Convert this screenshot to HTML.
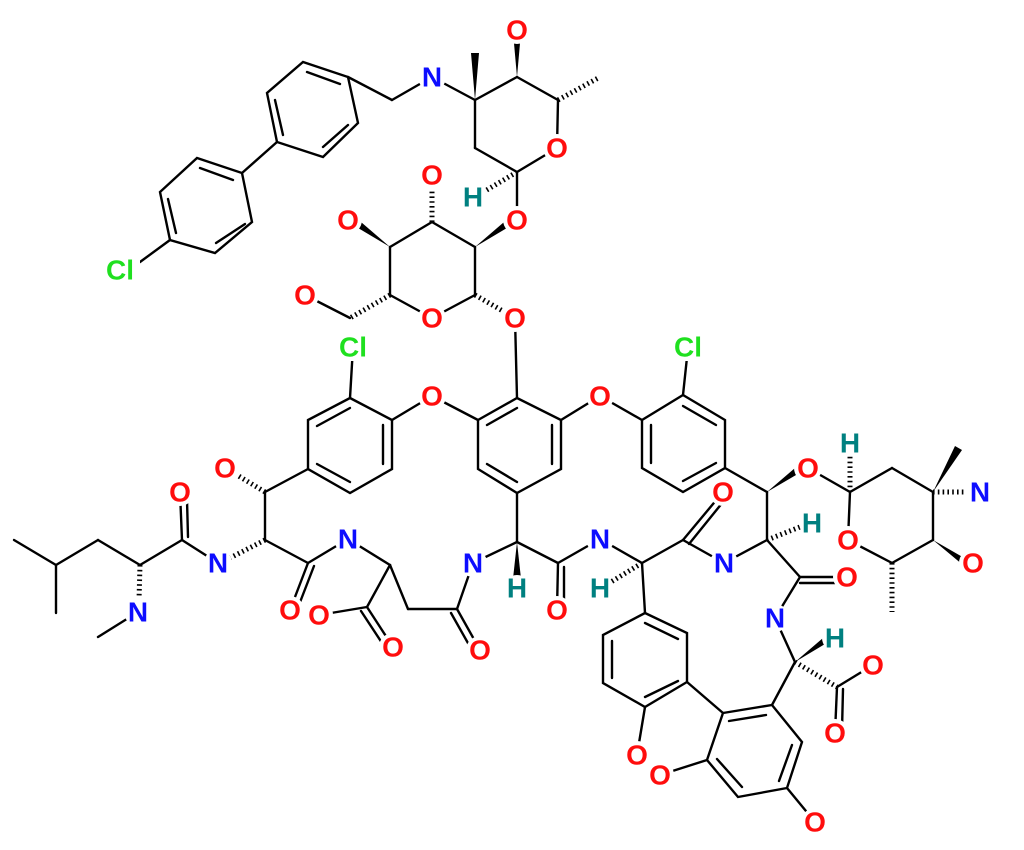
<!DOCTYPE html>
<html><head><meta charset="utf-8"><style>
html,body{margin:0;padding:0;background:#fff;}
svg{display:block}
text{font-family:"Liberation Sans",sans-serif;font-size:28px;font-weight:bold;text-anchor:middle;dominant-baseline:central}
.o{fill:#ff0d0d}.n{fill:#0d0dff}.cl{fill:#1fe01f}.h{fill:#008080}
</style></head><body>
<svg width="1024" height="850" viewBox="0 0 1024 850" xmlns="http://www.w3.org/2000/svg">
<g stroke="#000" stroke-width="2.4" fill="none" stroke-linecap="round">
<polygon points="170,240 160,192 197,158 242,173 252,222 215,253"/>
<line x1="168" y1="199" x2="176" y2="233"/><line x1="200" y1="168" x2="233" y2="180"/><line x1="245" y1="224" x2="216" y2="243"/>
<line x1="170" y1="240" x2="140" y2="262"/>
<line x1="242" y1="173" x2="277" y2="142"/>
<polygon points="277,142 267,93 303,62 348,77 358,123 323,157"/>
<line x1="275" y1="100" x2="283" y2="135"/><line x1="307" y1="72" x2="340" y2="84"/><line x1="348" y1="125" x2="323" y2="147"/>
<line x1="348" y1="77" x2="392" y2="100"/><line x1="392" y1="100" x2="432" y2="77"/><line x1="432" y1="77" x2="475" y2="100"/>
<line x1="475" y1="100" x2="517" y2="77"/><line x1="517" y1="77" x2="558" y2="100"/><line x1="558" y1="100" x2="557" y2="148"/>
<line x1="557" y1="148" x2="517" y2="172"/><line x1="517" y1="172" x2="475" y2="148"/><line x1="475" y1="148" x2="475" y2="100"/>
<line x1="517" y1="172" x2="517" y2="222"/>
<line x1="475" y1="247" x2="432" y2="222"/><line x1="432" y1="222" x2="390" y2="247"/><line x1="390" y1="247" x2="390" y2="295"/>
<line x1="390" y1="295" x2="432" y2="318"/><line x1="432" y1="318" x2="475" y2="295"/><line x1="475" y1="295" x2="475" y2="247"/>
<line x1="350" y1="318" x2="305" y2="295"/>
<line x1="515" y1="318" x2="517" y2="398"/><line x1="353" y1="347" x2="350" y2="398"/>
<polygon points="350,398 392,420 392,469 350,493 308,469 308,420"/>
<line x1="317" y1="426" x2="350" y2="408"/><line x1="383" y1="425" x2="383" y2="464"/><line x1="317" y1="464" x2="350" y2="482"/>
<line x1="392" y1="420" x2="432" y2="396"/><line x1="432" y1="396" x2="478" y2="420"/>
<polygon points="478,420 517,398 561,420 561,469 517,493 478,469"/>
<line x1="487" y1="425" x2="517" y2="408"/><line x1="552" y1="425" x2="552" y2="464"/><line x1="487" y1="464" x2="517" y2="482"/>
<line x1="561" y1="420" x2="600" y2="396"/><line x1="600" y1="396" x2="642" y2="420"/>
<polygon points="642,420 683,395 725,420 725,468 683,492 642,468"/>
<line x1="651" y1="425" x2="651" y2="463"/><line x1="683" y1="406" x2="716" y2="425"/><line x1="716" y1="463" x2="683" y2="481"/>
<line x1="683" y1="395" x2="688" y2="348"/>
<line x1="14" y1="540" x2="56" y2="565"/><line x1="56" y1="565" x2="56" y2="613"/><line x1="56" y1="565" x2="98" y2="540"/>
<line x1="98" y1="540" x2="140" y2="565"/><line x1="140" y1="565" x2="182" y2="540"/><line x1="138" y1="612" x2="98" y2="637"/>
<line x1="182" y1="540" x2="180" y2="492"/><line x1="188" y1="537" x2="187" y2="500"/>
<line x1="182" y1="540" x2="218" y2="563"/>
<line x1="265" y1="540" x2="265" y2="492"/><line x1="265" y1="492" x2="308" y2="469"/>
<line x1="265" y1="540" x2="308" y2="563"/><line x1="308" y1="563" x2="290" y2="610"/><line x1="314" y1="566" x2="297" y2="610"/>
<line x1="308" y1="563" x2="348" y2="539"/><line x1="348" y1="539" x2="390" y2="565"/>
<line x1="390" y1="565" x2="367" y2="607"/><line x1="367" y1="607" x2="319" y2="615"/>
<line x1="367" y1="607" x2="393" y2="647"/><line x1="361" y1="611" x2="386" y2="649"/>
<line x1="390" y1="565" x2="408" y2="609"/><line x1="408" y1="609" x2="457" y2="609"/>
<line x1="457" y1="609" x2="480" y2="650"/><line x1="451" y1="613" x2="473" y2="652"/>
<line x1="457" y1="609" x2="473" y2="563"/><line x1="473" y1="563" x2="517" y2="542"/>
<line x1="517" y1="542" x2="517" y2="493"/><line x1="517" y1="542" x2="558" y2="563"/>
<line x1="558" y1="563" x2="557" y2="610"/><line x1="564" y1="567" x2="564" y2="608"/>
<line x1="558" y1="563" x2="600" y2="539"/><line x1="600" y1="539" x2="642" y2="563"/>
<line x1="642" y1="563" x2="683" y2="540"/><line x1="683" y1="540" x2="723" y2="492"/><line x1="689" y1="544" x2="727" y2="497"/>
<line x1="683" y1="540" x2="724" y2="563"/><line x1="724" y1="563" x2="767" y2="540"/>
<line x1="767" y1="540" x2="767" y2="492"/><line x1="767" y1="492" x2="725" y2="468"/>
<line x1="767" y1="540" x2="800" y2="577"/><line x1="800" y1="577" x2="847" y2="577"/><line x1="800" y1="583" x2="840" y2="583"/>
<line x1="800" y1="577" x2="775" y2="618"/><line x1="775" y1="618" x2="795" y2="662"/>
<line x1="795" y1="662" x2="772" y2="705"/>
<line x1="837" y1="687" x2="873" y2="665"/><line x1="837" y1="687" x2="835" y2="733"/><line x1="843" y1="689" x2="842" y2="730"/>
<line x1="642" y1="563" x2="645" y2="613"/>
<line x1="808" y1="468" x2="850" y2="492"/><line x1="850" y1="492" x2="892" y2="468"/><line x1="892" y1="468" x2="933" y2="492"/>
<line x1="933" y1="492" x2="933" y2="540"/><line x1="933" y1="540" x2="892" y2="563"/><line x1="892" y1="563" x2="848" y2="540"/><line x1="848" y1="540" x2="850" y2="492"/>
<polygon points="645,613 687,633 687,682 645,707 603,683 603,635"/>
<line x1="645" y1="623" x2="678" y2="639"/><line x1="612" y1="641" x2="612" y2="678"/><line x1="678" y1="681" x2="645" y2="697"/>
<line x1="687" y1="682" x2="723" y2="713"/><line x1="645" y1="707" x2="637" y2="755"/>
<polygon points="723,713 772,705 802,742 787,788 738,797 707,760"/>
<line x1="729" y1="721" x2="766" y2="715"/><line x1="792" y1="745" x2="779" y2="781"/><line x1="742" y1="787" x2="717" y2="759"/>
<line x1="707" y1="760" x2="660" y2="775"/><line x1="787" y1="788" x2="815" y2="822"/>
</g>
<g fill="#000">
<polygon points="475,100 471,53 479,53"/>
<polygon points="517,77 513,32 521,32"/>
<polygon points="475,247 517,222 511,216"/>
<polygon points="390,247 348,222 354,216"/>
<polygon points="517,542 512,588 522,588"/>
<polygon points="767,492 808,468 802,462"/>
<polygon points="933,492 962,450 955,446"/>
<polygon points="933,540 973,563 969,570"/>
<polygon points="795,662 835,638 830,632"/>
</g>
<g stroke="#000" stroke-width="5" stroke-dasharray="1.6,3.2" fill="none">
<line x1="558" y1="100" x2="600" y2="77"/>
<line x1="517" y1="172" x2="480" y2="194"/>
<line x1="432" y1="222" x2="432" y2="188"/>
<line x1="390" y1="295" x2="350" y2="318"/>
<line x1="475" y1="295" x2="515" y2="318"/>
<line x1="265" y1="492" x2="232" y2="472"/>
<line x1="265" y1="540" x2="226" y2="560"/>
<line x1="140" y1="565" x2="139" y2="600"/>
<line x1="642" y1="563" x2="606" y2="585"/>
<line x1="850" y1="492" x2="850" y2="455"/>
<line x1="933" y1="492" x2="970" y2="492"/>
<line x1="892" y1="563" x2="892" y2="612"/>
<line x1="767" y1="540" x2="805" y2="525"/>
<line x1="795" y1="662" x2="837" y2="687"/>
</g>
<g fill="#fff">
<circle cx="432" cy="77" r="14"/><circle cx="517" cy="30" r="14"/><circle cx="557" cy="148" r="14"/>
<circle cx="473" cy="197" r="13"/><circle cx="517" cy="220" r="14"/><circle cx="432" cy="175" r="14"/>
<circle cx="348" cy="220" r="14"/><circle cx="432" cy="318" r="14"/><circle cx="515" cy="318" r="14"/>
<circle cx="305" cy="295" r="14"/><circle cx="432" cy="396" r="14"/><circle cx="600" cy="396" r="14"/>
<circle cx="180" cy="492" r="14"/><circle cx="218" cy="563" r="14"/><circle cx="225" cy="468" r="14"/>
<circle cx="138" cy="612" r="14"/><circle cx="290" cy="610" r="14"/><circle cx="348" cy="539" r="14"/>
<circle cx="319" cy="615" r="14"/><circle cx="393" cy="647" r="14"/><circle cx="480" cy="650" r="14"/>
<circle cx="473" cy="563" r="14"/><circle cx="517" cy="588" r="13"/><circle cx="557" cy="610" r="14"/>
<circle cx="600" cy="539" r="14"/><circle cx="600" cy="588" r="13"/><circle cx="723" cy="492" r="14"/>
<circle cx="724" cy="563" r="14"/><circle cx="808" cy="468" r="14"/><circle cx="850" cy="443" r="13"/>
<circle cx="980" cy="492" r="14"/><circle cx="848" cy="540" r="14"/><circle cx="973" cy="563" r="14"/>
<circle cx="812" cy="523" r="13"/><circle cx="847" cy="577" r="14"/><circle cx="775" cy="618" r="14"/>
<circle cx="835" cy="638" r="13"/><circle cx="873" cy="665" r="14"/><circle cx="835" cy="733" r="14"/>
<circle cx="637" cy="755" r="14"/><circle cx="660" cy="775" r="14"/><circle cx="815" cy="822" r="14"/>
<rect x="102" y="256" width="38" height="28"/><rect x="335" y="333" width="38" height="28"/><rect x="670" y="333" width="38" height="28"/>
</g>
<text x="120" y="270" class="cl">Cl</text>
<text x="432" y="77" class="n">N</text>
<text x="517" y="30" class="o">O</text>
<text x="557" y="148" class="o">O</text>
<text x="473" y="197" class="h">H</text>
<text x="517" y="220" class="o">O</text>
<text x="432" y="175" class="o">O</text>
<text x="348" y="220" class="o">O</text>
<text x="432" y="318" class="o">O</text>
<text x="515" y="318" class="o">O</text>
<text x="305" y="295" class="o">O</text>
<text x="353" y="347" class="cl">Cl</text>
<text x="432" y="396" class="o">O</text>
<text x="600" y="396" class="o">O</text>
<text x="688" y="347" class="cl">Cl</text>
<text x="180" y="492" class="o">O</text>
<text x="218" y="563" class="n">N</text>
<text x="225" y="468" class="o">O</text>
<text x="138" y="612" class="n">N</text>
<text x="290" y="610" class="o">O</text>
<text x="348" y="539" class="n">N</text>
<text x="319" y="615" class="o">O</text>
<text x="393" y="647" class="o">O</text>
<text x="480" y="650" class="o">O</text>
<text x="473" y="563" class="n">N</text>
<text x="517" y="588" class="h">H</text>
<text x="557" y="610" class="o">O</text>
<text x="600" y="539" class="n">N</text>
<text x="600" y="588" class="h">H</text>
<text x="723" y="492" class="o">O</text>
<text x="724" y="563" class="n">N</text>
<text x="808" y="468" class="o">O</text>
<text x="850" y="443" class="h">H</text>
<text x="980" y="492" class="n">N</text>
<text x="848" y="540" class="o">O</text>
<text x="973" y="563" class="o">O</text>
<text x="812" y="523" class="h">H</text>
<text x="847" y="577" class="o">O</text>
<text x="775" y="618" class="n">N</text>
<text x="835" y="638" class="h">H</text>
<text x="873" y="665" class="o">O</text>
<text x="835" y="733" class="o">O</text>
<text x="637" y="755" class="o">O</text>
<text x="660" y="775" class="o">O</text>
<text x="815" y="822" class="o">O</text>
</svg>
</body></html>
